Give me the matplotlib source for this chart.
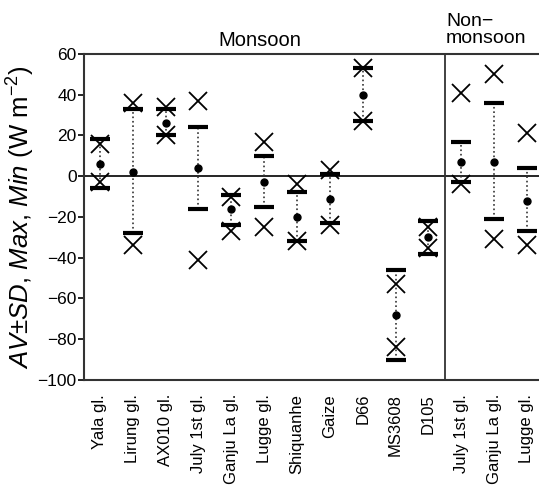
import matplotlib
matplotlib.use("Agg")
import matplotlib.pyplot as plt

plt.rcParams['font.family'] = ['Liberation Sans', 'DejaVu Sans']
plt.rcParams['mathtext.fontset'] = 'custom'
plt.rcParams['mathtext.rm'] = 'Liberation Sans'
plt.rcParams['mathtext.it'] = 'Liberation Sans:italic'

sites = ['Yala gl.', 'Lirung gl.', 'AX010 gl.', 'July 1st gl.', 'Ganju La gl.',
         'Lugge gl.', 'Shiquanhe', 'Gaize', 'D66', 'MS3608', 'D105',
         'July 1st gl.', 'Ganju La gl.', 'Lugge gl.']
av = [6, 2, 26, 4, -16, -3, -20, -11, 40, -68, -30, 7, 7, -12]
sd_hi = [18, 33, 33, 24, -9, 10, -8, 1, 53, -46, -22, 17, 36, 4]
sd_lo = [-6, -28, 20, -16, -24, -15, -32, -23, 27, -90, -38, -3, -21, -27]
vmax = [16, 36, 34, 37, -10, 17, -4, 3, 53, -53, -25, 41, 50, 21]
vmin = [-3, -34, 20, -41, -27, -25, -32, -24, 27, -84, -35, -4, -31, -34]

x = list(range(len(sites)))

fig = plt.figure(figsize=(5.39, 4.99), dpi=100)
ax = fig.add_axes([0.155, 0.2385, 0.853, 0.6535])

# dotted line from AV-SD to AV+SD
for i in x:
    ax.plot([i, i], [sd_lo[i], sd_hi[i]], ':', color='#333333', lw=1.2, zorder=1)

ax.plot(x, sd_hi, '_', color='black', ms=14, mew=3, ls='none', zorder=3)
ax.plot(x, sd_lo, '_', color='black', ms=14, mew=3, ls='none', zorder=3)
ax.plot(x, vmax, 'x', color='black', ms=13, mew=1.3, ls='none', zorder=3)
ax.plot(x, vmin, 'x', color='black', ms=13, mew=1.3, ls='none', zorder=3)
ax.plot(x, av, 'o', color='black', ms=5, ls='none', zorder=4)

ax.axhline(0, color='black', lw=1.2, zorder=0)
ax.axvline(10.5, color='#333333', lw=1.3, zorder=0)

ax.set_xlim(-0.5, 13.5)
ax.set_ylim(-100, 60)
ax.set_yticks(range(-100, 61, 20))
ax.set_yticklabels([str(v).replace('-', '\u2212') for v in range(-100, 61, 20)], fontsize=12.5)
ax.set_xticks(x)
ax.set_xticklabels(sites, rotation=90, fontsize=12)
ax.tick_params(axis='x', length=0, pad=10)
ax.tick_params(axis='y', length=4, width=1.2, pad=1)
for s in ax.spines.values():
    s.set_linewidth(1.5)
    s.set_color('#333333')

ax.set_ylabel(r'$AV$±$SD$, $Max$, $Min$ (W m$^{-2}$)', fontsize=18.5, labelpad=0)

fig.text(260 / 539, 1 - 40 / 499, 'Monsoon', fontsize=14.5, ha='center', va='center')
fig.text(446 / 539, 1 - 30 / 499, 'Non\u2212\nmonsoon', fontsize=14, ha='left', va='center',
         linespacing=1.05)

fig.savefig('out.png', dpi=100)
